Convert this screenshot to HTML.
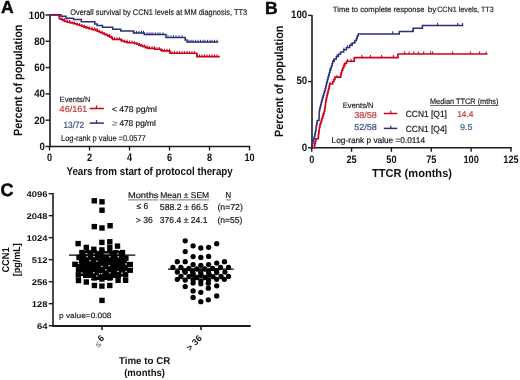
<!DOCTYPE html>
<html><head><meta charset="utf-8"><style>
html,body{margin:0;padding:0;background:#fff;width:520px;height:380px;overflow:hidden;}
svg{display:block;will-change:transform;}
text{font-family:"Liberation Sans", sans-serif;}
</style></head><body>
<svg width="520" height="380" viewBox="0 0 520 380" text-rendering="geometricPrecision">
<rect width="520" height="380" fill="#fff"/>
<text x="1.0" y="13.1" font-size="17.6" font-weight="bold" fill="#0a0a0a" text-anchor="start" stroke="#0a0a0a" stroke-width="0.45">A</text>
<line x1="50" y1="14.2" x2="50" y2="147.3" stroke="#1c1c1c" stroke-width="1.6" stroke-linecap="butt"/>
<line x1="49.2" y1="146.5" x2="250.3" y2="146.5" stroke="#1c1c1c" stroke-width="1.6" stroke-linecap="butt"/>
<line x1="45.5" y1="146.5" x2="50" y2="146.5" stroke="#1c1c1c" stroke-width="1.4" stroke-linecap="butt"/>
<text x="45.0" y="150.0" font-size="10.8" font-weight="bold" fill="#111" text-anchor="end" textLength="5.4" lengthAdjust="spacingAndGlyphs" >0</text>
<line x1="45.5" y1="120.2" x2="50" y2="120.2" stroke="#1c1c1c" stroke-width="1.4" stroke-linecap="butt"/>
<text x="45.0" y="123.7" font-size="10.8" font-weight="bold" fill="#111" text-anchor="end" textLength="10.8" lengthAdjust="spacingAndGlyphs" >20</text>
<line x1="45.5" y1="93.9" x2="50" y2="93.9" stroke="#1c1c1c" stroke-width="1.4" stroke-linecap="butt"/>
<text x="45.0" y="97.4" font-size="10.8" font-weight="bold" fill="#111" text-anchor="end" textLength="10.8" lengthAdjust="spacingAndGlyphs" >40</text>
<line x1="45.5" y1="67.6" x2="50" y2="67.6" stroke="#1c1c1c" stroke-width="1.4" stroke-linecap="butt"/>
<text x="45.0" y="71.1" font-size="10.8" font-weight="bold" fill="#111" text-anchor="end" textLength="10.8" lengthAdjust="spacingAndGlyphs" >60</text>
<line x1="45.5" y1="41.3" x2="50" y2="41.3" stroke="#1c1c1c" stroke-width="1.4" stroke-linecap="butt"/>
<text x="45.0" y="44.8" font-size="10.8" font-weight="bold" fill="#111" text-anchor="end" textLength="10.8" lengthAdjust="spacingAndGlyphs" >80</text>
<line x1="45.5" y1="15.0" x2="50" y2="15.0" stroke="#1c1c1c" stroke-width="1.4" stroke-linecap="butt"/>
<text x="45.0" y="18.5" font-size="10.8" font-weight="bold" fill="#111" text-anchor="end" textLength="16.200000000000003" lengthAdjust="spacingAndGlyphs" >100</text>
<line x1="49.5" y1="146.5" x2="49.5" y2="150.5" stroke="#1c1c1c" stroke-width="1.4" stroke-linecap="butt"/>
<text x="49.5" y="161.0" font-size="10.8" font-weight="bold" fill="#111" text-anchor="middle" textLength="5.1" lengthAdjust="spacingAndGlyphs" >0</text>
<line x1="89.5" y1="146.5" x2="89.5" y2="150.5" stroke="#1c1c1c" stroke-width="1.4" stroke-linecap="butt"/>
<text x="89.5" y="161.0" font-size="10.8" font-weight="bold" fill="#111" text-anchor="middle" textLength="5.1" lengthAdjust="spacingAndGlyphs" >2</text>
<line x1="129.5" y1="146.5" x2="129.5" y2="150.5" stroke="#1c1c1c" stroke-width="1.4" stroke-linecap="butt"/>
<text x="129.5" y="161.0" font-size="10.8" font-weight="bold" fill="#111" text-anchor="middle" textLength="5.1" lengthAdjust="spacingAndGlyphs" >4</text>
<line x1="169.5" y1="146.5" x2="169.5" y2="150.5" stroke="#1c1c1c" stroke-width="1.4" stroke-linecap="butt"/>
<text x="169.5" y="161.0" font-size="10.8" font-weight="bold" fill="#111" text-anchor="middle" textLength="5.1" lengthAdjust="spacingAndGlyphs" >6</text>
<line x1="209.5" y1="146.5" x2="209.5" y2="150.5" stroke="#1c1c1c" stroke-width="1.4" stroke-linecap="butt"/>
<text x="209.5" y="161.0" font-size="10.8" font-weight="bold" fill="#111" text-anchor="middle" textLength="5.1" lengthAdjust="spacingAndGlyphs" >8</text>
<line x1="249.5" y1="146.5" x2="249.5" y2="150.5" stroke="#1c1c1c" stroke-width="1.4" stroke-linecap="butt"/>
<text x="249.5" y="161.0" font-size="10.8" font-weight="bold" fill="#111" text-anchor="middle" textLength="10.2" lengthAdjust="spacingAndGlyphs" >10</text>
<text x="66.4" y="174.6" font-size="11.2" font-weight="bold" fill="#111" text-anchor="start" textLength="166.4" lengthAdjust="spacingAndGlyphs" >Years from start of protocol therapy</text>
<text x="22" y="136.1" font-size="12" font-weight="bold" fill="#111" text-anchor="start" textLength="111.6" lengthAdjust="spacingAndGlyphs" transform="rotate(-90 22 136.1)" >Percent of population</text>
<text x="70.2" y="14.6" font-size="8.2" font-weight="normal" fill="#1e1e1e" text-anchor="start" textLength="177" lengthAdjust="spacingAndGlyphs" stroke="#1e1e1e" stroke-width="0.18" >Overall survival by CCN1 levels at MM diagnosis, TT3</text>
<polyline points="49.5,14.8 61.0,14.8 61.0,16.3 66.0,16.3 66.0,18.2 73.6,18.2 73.6,19.6 81.3,19.6 81.3,21.7 94.8,21.7 94.8,24.0 97.1,24.0 97.1,25.4 102.5,25.4 102.5,27.2 112.8,27.2 112.8,29.3 120.8,29.3 120.8,31.1 133.5,31.1 133.5,33.0 144.3,33.0 144.3,34.6 166.0,34.6 166.0,37.5 185.2,37.5 185.2,39.9 187.0,39.9 187.0,42.0 218.3,42.0 218.3,42.0" fill="none" stroke="#28307a" stroke-width="1.5" stroke-linejoin="miter"/>
<line x1="134" y1="30.8" x2="134" y2="33.5" stroke="#28307a" stroke-width="1.0" stroke-linecap="butt"/>
<line x1="136.5" y1="30.8" x2="136.5" y2="33.5" stroke="#28307a" stroke-width="1.0" stroke-linecap="butt"/>
<line x1="139" y1="30.8" x2="139" y2="33.5" stroke="#28307a" stroke-width="1.0" stroke-linecap="butt"/>
<line x1="141.5" y1="30.8" x2="141.5" y2="33.5" stroke="#28307a" stroke-width="1.0" stroke-linecap="butt"/>
<line x1="143.5" y1="30.8" x2="143.5" y2="33.5" stroke="#28307a" stroke-width="1.0" stroke-linecap="butt"/>
<line x1="147" y1="32.4" x2="147" y2="35.1" stroke="#28307a" stroke-width="1.0" stroke-linecap="butt"/>
<line x1="149" y1="32.4" x2="149" y2="35.1" stroke="#28307a" stroke-width="1.0" stroke-linecap="butt"/>
<line x1="151" y1="32.4" x2="151" y2="35.1" stroke="#28307a" stroke-width="1.0" stroke-linecap="butt"/>
<line x1="153" y1="32.4" x2="153" y2="35.1" stroke="#28307a" stroke-width="1.0" stroke-linecap="butt"/>
<line x1="155.5" y1="32.4" x2="155.5" y2="35.1" stroke="#28307a" stroke-width="1.0" stroke-linecap="butt"/>
<line x1="158" y1="32.4" x2="158" y2="35.1" stroke="#28307a" stroke-width="1.0" stroke-linecap="butt"/>
<line x1="160" y1="32.4" x2="160" y2="35.1" stroke="#28307a" stroke-width="1.0" stroke-linecap="butt"/>
<line x1="163" y1="32.4" x2="163" y2="35.1" stroke="#28307a" stroke-width="1.0" stroke-linecap="butt"/>
<line x1="168" y1="35.3" x2="168" y2="38.0" stroke="#28307a" stroke-width="1.0" stroke-linecap="butt"/>
<line x1="171" y1="35.3" x2="171" y2="38.0" stroke="#28307a" stroke-width="1.0" stroke-linecap="butt"/>
<line x1="173.5" y1="35.3" x2="173.5" y2="38.0" stroke="#28307a" stroke-width="1.0" stroke-linecap="butt"/>
<line x1="176" y1="35.3" x2="176" y2="38.0" stroke="#28307a" stroke-width="1.0" stroke-linecap="butt"/>
<line x1="179" y1="35.3" x2="179" y2="38.0" stroke="#28307a" stroke-width="1.0" stroke-linecap="butt"/>
<line x1="182" y1="35.3" x2="182" y2="38.0" stroke="#28307a" stroke-width="1.0" stroke-linecap="butt"/>
<line x1="189" y1="39.8" x2="189" y2="42.5" stroke="#28307a" stroke-width="1.0" stroke-linecap="butt"/>
<line x1="191" y1="39.8" x2="191" y2="42.5" stroke="#28307a" stroke-width="1.0" stroke-linecap="butt"/>
<line x1="193" y1="39.8" x2="193" y2="42.5" stroke="#28307a" stroke-width="1.0" stroke-linecap="butt"/>
<line x1="195.5" y1="39.8" x2="195.5" y2="42.5" stroke="#28307a" stroke-width="1.0" stroke-linecap="butt"/>
<line x1="198" y1="39.8" x2="198" y2="42.5" stroke="#28307a" stroke-width="1.0" stroke-linecap="butt"/>
<line x1="200.5" y1="39.8" x2="200.5" y2="42.5" stroke="#28307a" stroke-width="1.0" stroke-linecap="butt"/>
<line x1="203" y1="39.8" x2="203" y2="42.5" stroke="#28307a" stroke-width="1.0" stroke-linecap="butt"/>
<line x1="205" y1="39.8" x2="205" y2="42.5" stroke="#28307a" stroke-width="1.0" stroke-linecap="butt"/>
<line x1="207.5" y1="39.8" x2="207.5" y2="42.5" stroke="#28307a" stroke-width="1.0" stroke-linecap="butt"/>
<line x1="210" y1="39.8" x2="210" y2="42.5" stroke="#28307a" stroke-width="1.0" stroke-linecap="butt"/>
<line x1="212" y1="39.8" x2="212" y2="42.5" stroke="#28307a" stroke-width="1.0" stroke-linecap="butt"/>
<line x1="214.5" y1="39.8" x2="214.5" y2="42.5" stroke="#28307a" stroke-width="1.0" stroke-linecap="butt"/>
<line x1="217" y1="39.8" x2="217" y2="42.5" stroke="#28307a" stroke-width="1.0" stroke-linecap="butt"/>
<polyline points="49.5,14.8 59.0,14.8 59.0,15.6 59.1,15.6 59.1,16.4 59.2,16.4 59.2,17.3 59.4,17.3 59.4,18.1 59.6,18.1 59.6,18.9 61.8,18.9 61.8,19.7 63.2,19.7 63.2,20.5 64.6,20.5 64.6,21.4 67.3,21.4 67.3,22.2 70.2,22.2 70.2,23.0 73.4,23.0 73.4,23.8 76.8,23.8 76.8,24.6 79.4,24.6 79.4,25.5 81.9,25.5 81.9,26.3 83.9,26.3 83.9,27.1 86.2,27.1 86.2,27.9 89.0,27.9 89.0,28.7 92.1,28.7 92.1,29.6 95.6,29.6 95.6,30.4 97.3,30.4 97.3,31.2 99.0,31.2 99.0,32.0 100.8,32.0 100.8,32.8 102.8,32.8 102.8,33.7 104.5,33.7 104.5,34.5 106.3,34.5 106.3,35.3 108.1,35.3 108.1,36.1 109.8,36.1 109.8,36.9 111.3,36.9 111.3,37.8 112.3,37.8 112.3,38.6 112.7,38.6 112.7,39.4 121.1,39.4 121.1,40.2 121.5,40.2 121.5,41.0 124.4,41.0 124.4,41.9 127.4,41.9 127.4,42.7 134.5,42.7 134.5,43.5 137.0,43.5 137.0,44.3 138.9,44.3 138.9,45.1 141.0,45.1 141.0,46.0 143.0,46.0 143.0,46.8 145.6,46.8 145.6,47.6 147.9,47.6 147.9,48.4 154.7,48.4 154.7,49.2 160.9,49.2 160.9,50.1 162.0,50.1 162.0,50.9 169.8,50.9 169.8,51.7 169.9,51.7 169.9,52.5 170.0,52.5 170.0,53.3 196.8,53.3 196.8,54.2 196.9,54.2 196.9,55.0 196.9,55.0 196.9,55.8 197.0,55.8 197.0,56.6 219.0,56.6 219.0,57.4" fill="none" stroke="#d0021b" stroke-width="1.6" stroke-linejoin="miter"/>
<line x1="62.0" y1="17.52" x2="62.0" y2="20.22" stroke="#d0021b" stroke-width="1.0" stroke-linecap="butt"/>
<line x1="64.5" y1="18.34" x2="64.5" y2="21.04" stroke="#d0021b" stroke-width="1.0" stroke-linecap="butt"/>
<line x1="67.0" y1="19.16" x2="67.0" y2="21.86" stroke="#d0021b" stroke-width="1.0" stroke-linecap="butt"/>
<line x1="69.5" y1="19.98" x2="69.5" y2="22.68" stroke="#d0021b" stroke-width="1.0" stroke-linecap="butt"/>
<line x1="72.0" y1="20.8" x2="72.0" y2="23.5" stroke="#d0021b" stroke-width="1.0" stroke-linecap="butt"/>
<line x1="74.5" y1="21.62" x2="74.5" y2="24.32" stroke="#d0021b" stroke-width="1.0" stroke-linecap="butt"/>
<line x1="77.0" y1="22.44" x2="77.0" y2="25.14" stroke="#d0021b" stroke-width="1.0" stroke-linecap="butt"/>
<line x1="79.5" y1="23.26" x2="79.5" y2="25.96" stroke="#d0021b" stroke-width="1.0" stroke-linecap="butt"/>
<line x1="82.0" y1="24.080000000000002" x2="82.0" y2="26.78" stroke="#d0021b" stroke-width="1.0" stroke-linecap="butt"/>
<line x1="84.5" y1="24.900000000000002" x2="84.5" y2="27.6" stroke="#d0021b" stroke-width="1.0" stroke-linecap="butt"/>
<line x1="87.0" y1="25.720000000000002" x2="87.0" y2="28.42" stroke="#d0021b" stroke-width="1.0" stroke-linecap="butt"/>
<line x1="89.5" y1="26.540000000000003" x2="89.5" y2="29.240000000000002" stroke="#d0021b" stroke-width="1.0" stroke-linecap="butt"/>
<line x1="92.0" y1="26.540000000000003" x2="92.0" y2="29.240000000000002" stroke="#d0021b" stroke-width="1.0" stroke-linecap="butt"/>
<line x1="94.5" y1="27.360000000000003" x2="94.5" y2="30.060000000000002" stroke="#d0021b" stroke-width="1.0" stroke-linecap="butt"/>
<line x1="97.0" y1="28.18" x2="97.0" y2="30.88" stroke="#d0021b" stroke-width="1.0" stroke-linecap="butt"/>
<line x1="99.5" y1="29.819999999999997" x2="99.5" y2="32.519999999999996" stroke="#d0021b" stroke-width="1.0" stroke-linecap="butt"/>
<line x1="102.0" y1="30.640000000000004" x2="102.0" y2="33.34" stroke="#d0021b" stroke-width="1.0" stroke-linecap="butt"/>
<line x1="104.5" y1="32.28" x2="104.5" y2="34.980000000000004" stroke="#d0021b" stroke-width="1.0" stroke-linecap="butt"/>
<line x1="107.0" y1="33.099999999999994" x2="107.0" y2="35.8" stroke="#d0021b" stroke-width="1.0" stroke-linecap="butt"/>
<line x1="109.5" y1="33.92" x2="109.5" y2="36.620000000000005" stroke="#d0021b" stroke-width="1.0" stroke-linecap="butt"/>
<line x1="112.0" y1="35.559999999999995" x2="112.0" y2="38.26" stroke="#d0021b" stroke-width="1.0" stroke-linecap="butt"/>
<line x1="114.5" y1="37.199999999999996" x2="114.5" y2="39.9" stroke="#d0021b" stroke-width="1.0" stroke-linecap="butt"/>
<line x1="117.0" y1="37.199999999999996" x2="117.0" y2="39.9" stroke="#d0021b" stroke-width="1.0" stroke-linecap="butt"/>
<line x1="119.5" y1="37.199999999999996" x2="119.5" y2="39.9" stroke="#d0021b" stroke-width="1.0" stroke-linecap="butt"/>
<line x1="122.0" y1="38.839999999999996" x2="122.0" y2="41.54" stroke="#d0021b" stroke-width="1.0" stroke-linecap="butt"/>
<line x1="124.5" y1="39.66" x2="124.5" y2="42.36" stroke="#d0021b" stroke-width="1.0" stroke-linecap="butt"/>
<line x1="127.0" y1="39.66" x2="127.0" y2="42.36" stroke="#d0021b" stroke-width="1.0" stroke-linecap="butt"/>
<line x1="129.5" y1="40.48" x2="129.5" y2="43.18" stroke="#d0021b" stroke-width="1.0" stroke-linecap="butt"/>
<line x1="132.0" y1="40.48" x2="132.0" y2="43.18" stroke="#d0021b" stroke-width="1.0" stroke-linecap="butt"/>
<line x1="134.5" y1="41.3" x2="134.5" y2="44.0" stroke="#d0021b" stroke-width="1.0" stroke-linecap="butt"/>
<line x1="137.0" y1="42.12" x2="137.0" y2="44.82" stroke="#d0021b" stroke-width="1.0" stroke-linecap="butt"/>
<line x1="139.5" y1="42.94" x2="139.5" y2="45.64" stroke="#d0021b" stroke-width="1.0" stroke-linecap="butt"/>
<line x1="142.0" y1="43.75999999999999" x2="142.0" y2="46.459999999999994" stroke="#d0021b" stroke-width="1.0" stroke-linecap="butt"/>
<line x1="144.5" y1="44.58" x2="144.5" y2="47.28" stroke="#d0021b" stroke-width="1.0" stroke-linecap="butt"/>
<line x1="147.0" y1="45.39999999999999" x2="147.0" y2="48.099999999999994" stroke="#d0021b" stroke-width="1.0" stroke-linecap="butt"/>
<line x1="149.5" y1="46.22" x2="149.5" y2="48.92" stroke="#d0021b" stroke-width="1.0" stroke-linecap="butt"/>
<line x1="152.0" y1="46.22" x2="152.0" y2="48.92" stroke="#d0021b" stroke-width="1.0" stroke-linecap="butt"/>
<line x1="154.5" y1="46.22" x2="154.5" y2="48.92" stroke="#d0021b" stroke-width="1.0" stroke-linecap="butt"/>
<line x1="157.0" y1="47.03999999999999" x2="157.0" y2="49.739999999999995" stroke="#d0021b" stroke-width="1.0" stroke-linecap="butt"/>
<line x1="159.5" y1="47.03999999999999" x2="159.5" y2="49.739999999999995" stroke="#d0021b" stroke-width="1.0" stroke-linecap="butt"/>
<line x1="162.0" y1="48.67999999999999" x2="162.0" y2="51.379999999999995" stroke="#d0021b" stroke-width="1.0" stroke-linecap="butt"/>
<line x1="164.5" y1="48.67999999999999" x2="164.5" y2="51.379999999999995" stroke="#d0021b" stroke-width="1.0" stroke-linecap="butt"/>
<line x1="167.0" y1="48.67999999999999" x2="167.0" y2="51.379999999999995" stroke="#d0021b" stroke-width="1.0" stroke-linecap="butt"/>
<line x1="169.5" y1="48.67999999999999" x2="169.5" y2="51.379999999999995" stroke="#d0021b" stroke-width="1.0" stroke-linecap="butt"/>
<line x1="172.0" y1="51.14" x2="172.0" y2="53.84" stroke="#d0021b" stroke-width="1.0" stroke-linecap="butt"/>
<line x1="174.5" y1="51.14" x2="174.5" y2="53.84" stroke="#d0021b" stroke-width="1.0" stroke-linecap="butt"/>
<line x1="177.0" y1="51.14" x2="177.0" y2="53.84" stroke="#d0021b" stroke-width="1.0" stroke-linecap="butt"/>
<line x1="179.5" y1="51.14" x2="179.5" y2="53.84" stroke="#d0021b" stroke-width="1.0" stroke-linecap="butt"/>
<line x1="182.0" y1="51.14" x2="182.0" y2="53.84" stroke="#d0021b" stroke-width="1.0" stroke-linecap="butt"/>
<line x1="184.5" y1="51.14" x2="184.5" y2="53.84" stroke="#d0021b" stroke-width="1.0" stroke-linecap="butt"/>
<line x1="187.0" y1="51.14" x2="187.0" y2="53.84" stroke="#d0021b" stroke-width="1.0" stroke-linecap="butt"/>
<line x1="189.5" y1="51.14" x2="189.5" y2="53.84" stroke="#d0021b" stroke-width="1.0" stroke-linecap="butt"/>
<line x1="192.0" y1="51.14" x2="192.0" y2="53.84" stroke="#d0021b" stroke-width="1.0" stroke-linecap="butt"/>
<line x1="194.5" y1="51.14" x2="194.5" y2="53.84" stroke="#d0021b" stroke-width="1.0" stroke-linecap="butt"/>
<line x1="197.0" y1="54.42" x2="197.0" y2="57.120000000000005" stroke="#d0021b" stroke-width="1.0" stroke-linecap="butt"/>
<line x1="199.5" y1="54.42" x2="199.5" y2="57.120000000000005" stroke="#d0021b" stroke-width="1.0" stroke-linecap="butt"/>
<line x1="202.0" y1="54.42" x2="202.0" y2="57.120000000000005" stroke="#d0021b" stroke-width="1.0" stroke-linecap="butt"/>
<line x1="204.5" y1="54.42" x2="204.5" y2="57.120000000000005" stroke="#d0021b" stroke-width="1.0" stroke-linecap="butt"/>
<line x1="207.0" y1="54.42" x2="207.0" y2="57.120000000000005" stroke="#d0021b" stroke-width="1.0" stroke-linecap="butt"/>
<line x1="209.5" y1="54.42" x2="209.5" y2="57.120000000000005" stroke="#d0021b" stroke-width="1.0" stroke-linecap="butt"/>
<line x1="212.0" y1="54.42" x2="212.0" y2="57.120000000000005" stroke="#d0021b" stroke-width="1.0" stroke-linecap="butt"/>
<line x1="214.5" y1="54.42" x2="214.5" y2="57.120000000000005" stroke="#d0021b" stroke-width="1.0" stroke-linecap="butt"/>
<line x1="217.0" y1="54.42" x2="217.0" y2="57.120000000000005" stroke="#d0021b" stroke-width="1.0" stroke-linecap="butt"/>
<line x1="49.5" y1="14.8" x2="58.9" y2="14.8" stroke="#6b1d4d" stroke-width="1.7" stroke-linecap="butt"/>
<text x="59.6" y="101.5" font-size="7.7" font-weight="normal" fill="#1e1e1e" text-anchor="start" textLength="30.8" lengthAdjust="spacingAndGlyphs" stroke="#1e1e1e" stroke-width="0.18" >Events/N</text>
<text x="59.6" y="111.5" font-size="8.9" font-weight="normal" fill="#c8383c" text-anchor="start" textLength="27.7" lengthAdjust="spacingAndGlyphs" stroke="#c8383c" stroke-width="0.18" >46/161</text>
<line x1="89.6" y1="108.5" x2="103.9" y2="108.5" stroke="#d0021b" stroke-width="1.5" stroke-linecap="butt"/>
<line x1="96.5" y1="105.4" x2="96.5" y2="108.5" stroke="#d0021b" stroke-width="1.2" stroke-linecap="butt"/>
<text x="111.9" y="111.8" font-size="8.3" font-weight="normal" fill="#151515" text-anchor="start" textLength="45" lengthAdjust="spacingAndGlyphs" stroke="#151515" stroke-width="0.18" >&lt; 478 pg/ml</text>
<text x="63.5" y="127.7" font-size="9.0" font-weight="normal" fill="#3e4a90" text-anchor="start" textLength="20.7" lengthAdjust="spacingAndGlyphs" stroke="#3e4a90" stroke-width="0.18" >13/72</text>
<line x1="89.6" y1="123.1" x2="103.9" y2="123.1" stroke="#28307a" stroke-width="1.5" stroke-linecap="butt"/>
<line x1="96.5" y1="120.1" x2="96.5" y2="123.1" stroke="#28307a" stroke-width="1.2" stroke-linecap="butt"/>
<text x="112.2" y="126.3" font-size="8.3" font-weight="normal" fill="#888" text-anchor="start" textLength="5.0" lengthAdjust="spacingAndGlyphs" stroke="#888" stroke-width="0.18" >≥</text>
<text x="119.4" y="126.3" font-size="8.3" font-weight="normal" fill="#151515" text-anchor="start" textLength="36.4" lengthAdjust="spacingAndGlyphs" stroke="#151515" stroke-width="0.18" >478 pg/ml</text>
<text x="61.1" y="140.9" font-size="8.4" font-weight="normal" fill="#1e1e1e" text-anchor="start" textLength="84.6" lengthAdjust="spacingAndGlyphs" stroke="#1e1e1e" stroke-width="0.18" >Log-rank p value =0.0577</text>
<text x="265.0" y="13.6" font-size="17.6" font-weight="bold" fill="#0a0a0a" text-anchor="start" stroke="#0a0a0a" stroke-width="0.45">B</text>
<line x1="312" y1="15" x2="312" y2="148.6" stroke="#1c1c1c" stroke-width="1.6" stroke-linecap="butt"/>
<line x1="311.2" y1="147.8" x2="511.8" y2="147.8" stroke="#1c1c1c" stroke-width="1.6" stroke-linecap="butt"/>
<line x1="308" y1="147.8" x2="312" y2="147.8" stroke="#1c1c1c" stroke-width="1.4" stroke-linecap="butt"/>
<text x="307.2" y="151.0" font-size="10.8" font-weight="bold" fill="#111" text-anchor="end" textLength="5.4" lengthAdjust="spacingAndGlyphs" >0</text>
<line x1="308" y1="81.60000000000001" x2="312" y2="81.60000000000001" stroke="#1c1c1c" stroke-width="1.4" stroke-linecap="butt"/>
<text x="307.2" y="84.00000000000001" font-size="10.8" font-weight="bold" fill="#111" text-anchor="end" textLength="10.8" lengthAdjust="spacingAndGlyphs" >50</text>
<line x1="308" y1="15.400000000000006" x2="312" y2="15.400000000000006" stroke="#1c1c1c" stroke-width="1.4" stroke-linecap="butt"/>
<text x="307.2" y="17.800000000000004" font-size="10.8" font-weight="bold" fill="#111" text-anchor="end" textLength="16.200000000000003" lengthAdjust="spacingAndGlyphs" >100</text>
<line x1="311.7" y1="147.8" x2="311.7" y2="151.8" stroke="#1c1c1c" stroke-width="1.4" stroke-linecap="butt"/>
<text x="311.7" y="162.6" font-size="10.8" font-weight="bold" fill="#111" text-anchor="middle" textLength="5.1" lengthAdjust="spacingAndGlyphs" >0</text>
<line x1="351.55" y1="147.8" x2="351.55" y2="151.8" stroke="#1c1c1c" stroke-width="1.4" stroke-linecap="butt"/>
<text x="351.55" y="162.6" font-size="10.8" font-weight="bold" fill="#111" text-anchor="middle" textLength="10.2" lengthAdjust="spacingAndGlyphs" >25</text>
<line x1="391.4" y1="147.8" x2="391.4" y2="151.8" stroke="#1c1c1c" stroke-width="1.4" stroke-linecap="butt"/>
<text x="391.4" y="162.6" font-size="10.8" font-weight="bold" fill="#111" text-anchor="middle" textLength="10.2" lengthAdjust="spacingAndGlyphs" >50</text>
<line x1="431.25" y1="147.8" x2="431.25" y2="151.8" stroke="#1c1c1c" stroke-width="1.4" stroke-linecap="butt"/>
<text x="431.25" y="162.6" font-size="10.8" font-weight="bold" fill="#111" text-anchor="middle" textLength="10.2" lengthAdjust="spacingAndGlyphs" >75</text>
<line x1="471.1" y1="147.8" x2="471.1" y2="151.8" stroke="#1c1c1c" stroke-width="1.4" stroke-linecap="butt"/>
<text x="471.1" y="162.6" font-size="10.8" font-weight="bold" fill="#111" text-anchor="middle" textLength="15.299999999999999" lengthAdjust="spacingAndGlyphs" >100</text>
<line x1="510.95" y1="147.8" x2="510.95" y2="151.8" stroke="#1c1c1c" stroke-width="1.4" stroke-linecap="butt"/>
<text x="510.95" y="162.6" font-size="10.8" font-weight="bold" fill="#111" text-anchor="middle" textLength="15.299999999999999" lengthAdjust="spacingAndGlyphs" >125</text>
<text x="372.0" y="176.6" font-size="11.5" font-weight="bold" fill="#111" text-anchor="start" textLength="80" lengthAdjust="spacingAndGlyphs" >TTCR (months)</text>
<text x="282.6" y="137.1" font-size="12" font-weight="bold" fill="#111" text-anchor="start" textLength="111.6" lengthAdjust="spacingAndGlyphs" transform="rotate(-90 282.6 137.1)" >Percent of population</text>
<text x="332.8" y="12.0" font-size="7.7" font-weight="normal" fill="#1e1e1e" text-anchor="start" textLength="58.6" lengthAdjust="spacingAndGlyphs" stroke="#1e1e1e" stroke-width="0.18" >Time to complete</text>
<text x="393.5" y="12.0" font-size="7.7" font-weight="normal" fill="#1e1e1e" text-anchor="start" textLength="30.9" lengthAdjust="spacingAndGlyphs" stroke="#1e1e1e" stroke-width="0.18" >response</text>
<text x="427.8" y="12.0" font-size="7.7" font-weight="normal" fill="#1e1e1e" text-anchor="start" textLength="8.7" lengthAdjust="spacingAndGlyphs" stroke="#1e1e1e" stroke-width="0.18" >by</text>
<text x="437.2" y="12.0" font-size="7.7" font-weight="normal" fill="#1e1e1e" text-anchor="start" textLength="56.5" lengthAdjust="spacingAndGlyphs" stroke="#1e1e1e" stroke-width="0.18" >CCN1 levels, TT3</text>
<polyline points="312.0,147.8 312.3,147.8 312.3,145.5 312.5,145.5 312.5,143.2 312.9,143.2 312.9,141.0 313.6,141.0 313.6,138.7 314.3,138.7 314.3,136.4 314.8,136.4 314.8,134.1 315.3,134.1 315.3,131.8 315.8,131.8 315.8,129.6 316.1,129.6 316.1,127.3 316.4,127.3 316.4,125.0 316.8,125.0 316.8,122.7 317.2,122.7 317.2,120.4 319.0,120.4 319.0,118.2 319.1,118.2 319.1,115.9 319.2,115.9 319.2,113.6 319.3,113.6 319.3,111.3 319.6,111.3 319.6,109.0 320.1,109.0 320.1,106.8 320.7,106.8 320.7,104.5 321.2,104.5 321.2,102.2 321.8,102.2 321.8,99.9 322.5,99.9 322.5,97.6 323.2,97.6 323.2,95.4 323.8,95.4 323.8,93.1 324.5,93.1 324.5,90.8 325.2,90.8 325.2,88.5 325.8,88.5 325.8,86.2 326.3,86.2 326.3,84.0 326.8,84.0 326.8,81.7 327.4,81.7 327.4,79.4 328.0,79.4 328.0,77.1 328.7,77.1 328.7,74.8 329.3,74.8 329.3,72.6 329.9,72.6 329.9,70.3 330.7,70.3 330.7,68.0 331.4,68.0 331.4,65.7 332.1,65.7 332.1,63.4 332.7,63.4 332.7,61.2 334.3,61.2 334.3,58.9 336.3,58.9 336.3,56.6 338.4,56.6 338.4,54.3 340.5,54.3 340.5,52.0 343.7,52.0 343.7,49.8 346.5,49.8 346.5,47.5 349.7,47.5 349.7,45.2 352.2,45.2 352.2,42.9 354.9,42.9 354.9,40.6 356.4,40.6 356.4,38.4 357.2,38.4 357.2,36.1 358.2,36.1 358.2,33.9 399.3,33.9 399.3,31.4 413.2,31.4 413.2,28.2 422.4,28.2 422.4,25.6 463.2,25.6" fill="none" stroke="#28307a" stroke-width="1.5" stroke-linejoin="miter"/>
<polyline points="313.0,147.8 314.5,147.8 314.5,145.5 314.8,145.5 314.8,143.2 315.3,143.2 315.3,141.0 315.9,141.0 315.9,138.7 318.3,138.7 318.3,136.4 318.5,136.4 318.5,134.1 318.8,134.1 318.8,131.8 319.1,131.8 319.1,129.6 319.4,129.6 319.4,127.3 319.9,127.3 319.9,125.0 320.5,125.0 320.5,122.7 321.3,122.7 321.3,120.4 321.9,120.4 321.9,118.2 322.6,118.2 322.6,115.9 323.3,115.9 323.3,113.6 324.1,113.6 324.1,111.3 324.7,111.3 324.7,109.0 325.0,109.0 325.0,106.8 325.3,106.8 325.3,104.5 325.6,104.5 325.6,102.2 326.0,102.2 326.0,99.9 326.4,99.9 326.4,97.6 326.9,97.6 326.9,95.4 327.4,95.4 327.4,93.1 328.0,93.1 328.0,90.8 328.6,90.8 328.6,88.5 329.1,88.5 329.1,86.2 329.6,86.2 329.6,84.0 332.7,84.0 332.7,81.7 333.9,81.7 333.9,79.4 335.0,79.4 335.0,77.1 340.7,77.1 340.7,74.8 341.2,74.8 341.2,72.6 341.8,72.6 341.8,70.3 342.7,70.3 342.7,68.0 343.7,68.0 343.7,65.7 344.8,65.7 344.8,63.4 346.6,63.4 346.6,61.2 354.2,61.2 354.2,58.9 354.5,58.9 354.5,57.6 398.0,57.6 398.0,54.0 487.5,54.0" fill="none" stroke="#d0021b" stroke-width="1.6" stroke-linejoin="miter"/>
<line x1="323.0" y1="95.44000000000001" x2="323.0" y2="98.14000000000001" stroke="#28307a" stroke-width="1.0" stroke-linecap="butt"/>
<line x1="326.5" y1="81.76" x2="326.5" y2="84.46000000000001" stroke="#28307a" stroke-width="1.0" stroke-linecap="butt"/>
<line x1="330.0" y1="68.08000000000001" x2="330.0" y2="70.78000000000002" stroke="#28307a" stroke-width="1.0" stroke-linecap="butt"/>
<line x1="333.5" y1="58.96000000000002" x2="333.5" y2="61.660000000000025" stroke="#28307a" stroke-width="1.0" stroke-linecap="butt"/>
<line x1="337.0" y1="54.40000000000002" x2="337.0" y2="57.10000000000002" stroke="#28307a" stroke-width="1.0" stroke-linecap="butt"/>
<line x1="340.5" y1="52.12000000000002" x2="340.5" y2="54.82000000000002" stroke="#28307a" stroke-width="1.0" stroke-linecap="butt"/>
<line x1="344.0" y1="47.56000000000002" x2="344.0" y2="50.26000000000002" stroke="#28307a" stroke-width="1.0" stroke-linecap="butt"/>
<line x1="347.5" y1="45.280000000000015" x2="347.5" y2="47.98000000000002" stroke="#28307a" stroke-width="1.0" stroke-linecap="butt"/>
<line x1="351.0" y1="43.000000000000014" x2="351.0" y2="45.70000000000002" stroke="#28307a" stroke-width="1.0" stroke-linecap="butt"/>
<line x1="354.5" y1="40.72000000000001" x2="354.5" y2="43.420000000000016" stroke="#28307a" stroke-width="1.0" stroke-linecap="butt"/>
<line x1="330.0" y1="81.76" x2="330.0" y2="84.46000000000001" stroke="#d0021b" stroke-width="1.0" stroke-linecap="butt"/>
<line x1="333.5" y1="79.48000000000002" x2="333.5" y2="82.18000000000002" stroke="#d0021b" stroke-width="1.0" stroke-linecap="butt"/>
<line x1="337.0" y1="74.92000000000002" x2="337.0" y2="77.62000000000002" stroke="#d0021b" stroke-width="1.0" stroke-linecap="butt"/>
<line x1="340.5" y1="74.92000000000002" x2="340.5" y2="77.62000000000002" stroke="#d0021b" stroke-width="1.0" stroke-linecap="butt"/>
<line x1="344.0" y1="63.52000000000001" x2="344.0" y2="66.22000000000001" stroke="#d0021b" stroke-width="1.0" stroke-linecap="butt"/>
<line x1="347.5" y1="58.96000000000002" x2="347.5" y2="61.660000000000025" stroke="#d0021b" stroke-width="1.0" stroke-linecap="butt"/>
<line x1="351.0" y1="58.96000000000002" x2="351.0" y2="61.660000000000025" stroke="#d0021b" stroke-width="1.0" stroke-linecap="butt"/>
<line x1="361.8" y1="55.0" x2="361.8" y2="57.6" stroke="#d0021b" stroke-width="1.1" stroke-linecap="butt"/>
<line x1="370.4" y1="55.0" x2="370.4" y2="57.6" stroke="#d0021b" stroke-width="1.1" stroke-linecap="butt"/>
<line x1="381.6" y1="55.0" x2="381.6" y2="57.6" stroke="#d0021b" stroke-width="1.1" stroke-linecap="butt"/>
<line x1="393.4" y1="55.0" x2="393.4" y2="57.6" stroke="#d0021b" stroke-width="1.1" stroke-linecap="butt"/>
<line x1="404.6" y1="51.4" x2="404.6" y2="54.0" stroke="#d0021b" stroke-width="1.1" stroke-linecap="butt"/>
<line x1="409.2" y1="51.4" x2="409.2" y2="54.0" stroke="#d0021b" stroke-width="1.1" stroke-linecap="butt"/>
<line x1="413.8" y1="51.4" x2="413.8" y2="54.0" stroke="#d0021b" stroke-width="1.1" stroke-linecap="butt"/>
<line x1="418.4" y1="51.4" x2="418.4" y2="54.0" stroke="#d0021b" stroke-width="1.1" stroke-linecap="butt"/>
<line x1="423.7" y1="51.4" x2="423.7" y2="54.0" stroke="#d0021b" stroke-width="1.1" stroke-linecap="butt"/>
<line x1="430.5" y1="51.4" x2="430.5" y2="54.0" stroke="#d0021b" stroke-width="1.1" stroke-linecap="butt"/>
<line x1="432.6" y1="51.4" x2="432.6" y2="54.0" stroke="#d0021b" stroke-width="1.1" stroke-linecap="butt"/>
<line x1="452.6" y1="51.4" x2="452.6" y2="54.0" stroke="#d0021b" stroke-width="1.1" stroke-linecap="butt"/>
<line x1="470.4" y1="51.4" x2="470.4" y2="54.0" stroke="#d0021b" stroke-width="1.1" stroke-linecap="butt"/>
<line x1="479.6" y1="51.4" x2="479.6" y2="54.0" stroke="#d0021b" stroke-width="1.1" stroke-linecap="butt"/>
<line x1="486.2" y1="51.4" x2="486.2" y2="54.0" stroke="#d0021b" stroke-width="1.1" stroke-linecap="butt"/>
<line x1="392.8" y1="31.299999999999997" x2="392.8" y2="33.9" stroke="#28307a" stroke-width="1.1" stroke-linecap="butt"/>
<line x1="413" y1="28.799999999999997" x2="413" y2="31.4" stroke="#28307a" stroke-width="1.1" stroke-linecap="butt"/>
<line x1="437.5" y1="23.0" x2="437.5" y2="25.6" stroke="#28307a" stroke-width="1.1" stroke-linecap="butt"/>
<line x1="457.9" y1="23.0" x2="457.9" y2="25.6" stroke="#28307a" stroke-width="1.1" stroke-linecap="butt"/>
<line x1="462.6" y1="23.0" x2="462.6" y2="25.6" stroke="#28307a" stroke-width="1.1" stroke-linecap="butt"/>
<text x="342.8" y="108.1" font-size="7.8" font-weight="normal" fill="#1e1e1e" text-anchor="start" textLength="30.7" lengthAdjust="spacingAndGlyphs" stroke="#1e1e1e" stroke-width="0.18" >Events/N</text>
<text x="354.2" y="117.6" font-size="8.7" font-weight="normal" fill="#c8383c" text-anchor="start" textLength="22.7" lengthAdjust="spacingAndGlyphs" stroke="#c8383c" stroke-width="0.18" >38/58</text>
<line x1="383.8" y1="113.5" x2="397.2" y2="113.5" stroke="#d0021b" stroke-width="1.5" stroke-linecap="butt"/>
<line x1="390.8" y1="110.8" x2="390.8" y2="113.5" stroke="#d0021b" stroke-width="1.2" stroke-linecap="butt"/>
<text x="405.8" y="116.5" font-size="8.9" font-weight="normal" fill="#151515" text-anchor="start" textLength="41.1" lengthAdjust="spacingAndGlyphs" stroke="#151515" stroke-width="0.18" >CCN1 [Q1]</text>
<text x="457.2" y="116.5" font-size="8.5" font-weight="normal" fill="#c8383c" text-anchor="start" textLength="16.3" lengthAdjust="spacingAndGlyphs" stroke="#c8383c" stroke-width="0.18" >14.4</text>
<text x="354.2" y="130.4" font-size="8.7" font-weight="normal" fill="#3e4a90" text-anchor="start" textLength="22.7" lengthAdjust="spacingAndGlyphs" stroke="#3e4a90" stroke-width="0.18" >52/58</text>
<line x1="383.8" y1="128.4" x2="397.2" y2="128.4" stroke="#28307a" stroke-width="1.5" stroke-linecap="butt"/>
<line x1="390.8" y1="125.8" x2="390.8" y2="128.4" stroke="#28307a" stroke-width="1.2" stroke-linecap="butt"/>
<text x="405.8" y="131.9" font-size="8.9" font-weight="normal" fill="#151515" text-anchor="start" textLength="41.1" lengthAdjust="spacingAndGlyphs" stroke="#151515" stroke-width="0.18" >CCN1 [Q4]</text>
<text x="460" y="130.1" font-size="8.6" font-weight="normal" fill="#3e4a90" text-anchor="start" textLength="12.6" lengthAdjust="spacingAndGlyphs" stroke="#3e4a90" stroke-width="0.18" >9.5</text>
<text x="430" y="104.0" font-size="7.9" font-weight="normal" fill="#1e1e1e" text-anchor="start" textLength="68.5" lengthAdjust="spacingAndGlyphs" stroke="#1e1e1e" stroke-width="0.18" >Median TTCR (mths)</text>
<line x1="430" y1="105.5" x2="498.5" y2="105.5" stroke="#444" stroke-width="0.8" stroke-linecap="butt"/>
<text x="331.6" y="142.6" font-size="8.3" font-weight="normal" fill="#151515" text-anchor="start" textLength="93.4" lengthAdjust="spacingAndGlyphs" stroke="#151515" stroke-width="0.18" >Log-rank p value =0.0114</text>
<text x="0.6" y="196.2" font-size="18.0" font-weight="bold" fill="#0a0a0a" text-anchor="start" stroke="#0a0a0a" stroke-width="0.45">C</text>
<line x1="53" y1="193" x2="53" y2="326.8" stroke="#1c1c1c" stroke-width="1.6" stroke-linecap="butt"/>
<line x1="52.2" y1="326" x2="250.7" y2="326" stroke="#1c1c1c" stroke-width="1.8" stroke-linecap="butt"/>
<line x1="48.7" y1="325.7" x2="53" y2="325.7" stroke="#1c1c1c" stroke-width="1.4" stroke-linecap="butt"/>
<text x="47.4" y="328.59999999999997" font-size="8.3" font-weight="bold" fill="#111" text-anchor="end" textLength="10.5" lengthAdjust="spacingAndGlyphs" >64</text>
<line x1="48.7" y1="303.7" x2="53" y2="303.7" stroke="#1c1c1c" stroke-width="1.4" stroke-linecap="butt"/>
<text x="47.4" y="306.59999999999997" font-size="8.3" font-weight="bold" fill="#111" text-anchor="end" textLength="15.75" lengthAdjust="spacingAndGlyphs" >128</text>
<line x1="48.7" y1="281.7" x2="53" y2="281.7" stroke="#1c1c1c" stroke-width="1.4" stroke-linecap="butt"/>
<text x="47.4" y="284.59999999999997" font-size="8.3" font-weight="bold" fill="#111" text-anchor="end" textLength="15.75" lengthAdjust="spacingAndGlyphs" >256</text>
<line x1="48.7" y1="259.7" x2="53" y2="259.7" stroke="#1c1c1c" stroke-width="1.4" stroke-linecap="butt"/>
<text x="47.4" y="262.59999999999997" font-size="8.3" font-weight="bold" fill="#111" text-anchor="end" textLength="15.75" lengthAdjust="spacingAndGlyphs" >512</text>
<line x1="48.7" y1="237.7" x2="53" y2="237.7" stroke="#1c1c1c" stroke-width="1.4" stroke-linecap="butt"/>
<text x="47.4" y="240.6" font-size="8.3" font-weight="bold" fill="#111" text-anchor="end" textLength="21.0" lengthAdjust="spacingAndGlyphs" >1024</text>
<line x1="48.7" y1="215.7" x2="53" y2="215.7" stroke="#1c1c1c" stroke-width="1.4" stroke-linecap="butt"/>
<text x="47.4" y="218.6" font-size="8.3" font-weight="bold" fill="#111" text-anchor="end" textLength="21.0" lengthAdjust="spacingAndGlyphs" >2048</text>
<line x1="48.7" y1="193.7" x2="53" y2="193.7" stroke="#1c1c1c" stroke-width="1.4" stroke-linecap="butt"/>
<text x="47.4" y="196.6" font-size="8.3" font-weight="bold" fill="#111" text-anchor="end" textLength="21.0" lengthAdjust="spacingAndGlyphs" >4096</text>
<line x1="102" y1="326" x2="102" y2="330" stroke="#1c1c1c" stroke-width="1.6" stroke-linecap="butt"/>
<line x1="201" y1="326" x2="201" y2="330" stroke="#1c1c1c" stroke-width="1.6" stroke-linecap="butt"/>
<text x="104.8" y="338.8" font-size="9" font-weight="bold" fill="#222" text-anchor="end" transform="rotate(-45 104.8 338.8)" >6</text>
<text x="101.5" y="344.8" font-size="8.5" font-weight="normal" fill="#777" text-anchor="end" transform="rotate(-45 101.5 344.8)" stroke="#777" stroke-width="0.18" >≤</text>
<text x="202.6" y="338.8" font-size="9" font-weight="bold" fill="#222" text-anchor="end" transform="rotate(-45 202.6 338.8)" >&gt; 36</text>
<text x="144.6" y="363.9" font-size="10" font-weight="bold" fill="#111" text-anchor="middle" textLength="51.4" lengthAdjust="spacingAndGlyphs" >Time to CR</text>
<text x="144.6" y="375.8" font-size="10" font-weight="bold" fill="#111" text-anchor="middle" textLength="40.8" lengthAdjust="spacingAndGlyphs" >(months)</text>
<text x="8.9" y="260" font-size="9.9" font-weight="bold" fill="#111" text-anchor="middle" textLength="25.2" lengthAdjust="spacingAndGlyphs" transform="rotate(-90 8.9 260)" >CCN1</text>
<text x="20.3" y="259.7" font-size="9.9" font-weight="bold" fill="#111" text-anchor="middle" textLength="33" lengthAdjust="spacingAndGlyphs" transform="rotate(-90 20.3 259.7)" >[pg/mL]</text>
<text x="59" y="318.3" font-size="7.6" font-weight="normal" fill="#1e1e1e" text-anchor="start" textLength="52.5" lengthAdjust="spacingAndGlyphs" stroke="#1e1e1e" stroke-width="0.18" >p value=0.008</text>
<text x="127.9" y="198.4" font-size="8.4" font-weight="normal" fill="#151515" text-anchor="start" textLength="30.6" lengthAdjust="spacingAndGlyphs" stroke="#151515" stroke-width="0.18" >Months</text>
<text x="160.2" y="198.4" font-size="8.4" font-weight="normal" fill="#151515" text-anchor="start" textLength="49" lengthAdjust="spacingAndGlyphs" stroke="#151515" stroke-width="0.18" >Mean ± SEM</text>
<text x="225.6" y="198.4" font-size="8.6" font-weight="normal" fill="#151515" text-anchor="start" textLength="5.6" lengthAdjust="spacingAndGlyphs" stroke="#151515" stroke-width="0.18" >N</text>
<line x1="127.9" y1="199.9" x2="158.5" y2="199.9" stroke="#555" stroke-width="0.8" stroke-linecap="butt"/>
<line x1="160.2" y1="199.9" x2="209.2" y2="199.9" stroke="#555" stroke-width="0.8" stroke-linecap="butt"/>
<line x1="225.8" y1="199.9" x2="230.8" y2="199.9" stroke="#555" stroke-width="0.8" stroke-linecap="butt"/>
<text x="136.5" y="209.4" font-size="8.7" font-weight="normal" fill="#151515" text-anchor="start" textLength="11.6" lengthAdjust="spacingAndGlyphs" stroke="#151515" stroke-width="0.18" >≤ 6</text>
<text x="159.8" y="209.5" font-size="8.7" font-weight="normal" fill="#151515" text-anchor="start" textLength="48.3" lengthAdjust="spacingAndGlyphs" stroke="#151515" stroke-width="0.18" >588.2 ± 66.5</text>
<text x="217.4" y="209.5" font-size="8.7" font-weight="normal" fill="#151515" text-anchor="start" textLength="25.5" lengthAdjust="spacingAndGlyphs" stroke="#151515" stroke-width="0.18" >(n=72)</text>
<text x="135.8" y="223.1" font-size="8.7" font-weight="normal" fill="#151515" text-anchor="start" textLength="16.9" lengthAdjust="spacingAndGlyphs" stroke="#151515" stroke-width="0.18" >&gt; 36</text>
<text x="159.8" y="223.1" font-size="8.7" font-weight="normal" fill="#151515" text-anchor="start" textLength="47.7" lengthAdjust="spacingAndGlyphs" stroke="#151515" stroke-width="0.18" >376.4 ± 24.1</text>
<text x="217.4" y="222.8" font-size="8.7" font-weight="normal" fill="#151515" text-anchor="start" textLength="25" lengthAdjust="spacingAndGlyphs" stroke="#151515" stroke-width="0.18" >(n=55)</text>
<rect x="91.6" y="198.1" width="5.4" height="5.4" fill="#000"/>
<rect x="99.3" y="199.1" width="5.4" height="5.4" fill="#000"/>
<rect x="99.3" y="207.5" width="5.4" height="5.4" fill="#000"/>
<rect x="91.6" y="223.9" width="5.4" height="5.4" fill="#000"/>
<rect x="99.3" y="225.3" width="5.4" height="5.4" fill="#000"/>
<rect x="107.4" y="223.0" width="5.4" height="5.4" fill="#000"/>
<rect x="75.4" y="240.9" width="5.4" height="5.4" fill="#000"/>
<rect x="83.6" y="244.7" width="5.4" height="5.4" fill="#000"/>
<rect x="91.1" y="246.6" width="5.4" height="5.4" fill="#000"/>
<rect x="99.2" y="239.7" width="5.4" height="5.4" fill="#000"/>
<rect x="107.1" y="239.1" width="5.4" height="5.4" fill="#000"/>
<rect x="114.8" y="243.4" width="5.4" height="5.4" fill="#000"/>
<rect x="99.2" y="247.2" width="5.4" height="5.4" fill="#000"/>
<rect x="107.1" y="244.7" width="5.4" height="5.4" fill="#000"/>
<rect x="75.8" y="277.8" width="5.4" height="5.4" fill="#000"/>
<rect x="83.6" y="279.3" width="5.4" height="5.4" fill="#000"/>
<rect x="91.7" y="282.8" width="5.4" height="5.4" fill="#000"/>
<rect x="99.2" y="283.4" width="5.4" height="5.4" fill="#000"/>
<rect x="107.1" y="282.8" width="5.4" height="5.4" fill="#000"/>
<rect x="115.4" y="277.6" width="5.4" height="5.4" fill="#000"/>
<rect x="122.9" y="277.6" width="5.4" height="5.4" fill="#000"/>
<rect x="99.3" y="297.7" width="5.4" height="5.4" fill="#000"/>
<rect x="79.2" y="249.9" width="5.4" height="5.4" fill="#000"/>
<rect x="85.3" y="249.9" width="5.4" height="5.4" fill="#000"/>
<rect x="91.7" y="249.9" width="5.4" height="5.4" fill="#000"/>
<rect x="99.2" y="249.9" width="5.4" height="5.4" fill="#000"/>
<rect x="107.1" y="249.9" width="5.4" height="5.4" fill="#000"/>
<rect x="113.3" y="249.9" width="5.4" height="5.4" fill="#000"/>
<rect x="119.8" y="249.9" width="5.4" height="5.4" fill="#000"/>
<rect x="76.3" y="254.8" width="5.4" height="5.4" fill="#000"/>
<rect x="72.2" y="261.6" width="5.4" height="5.4" fill="#000"/>
<rect x="75.8" y="267.3" width="5.4" height="5.4" fill="#000"/>
<rect x="75.6" y="272.3" width="5.4" height="5.4" fill="#000"/>
<rect x="83.6" y="272.3" width="5.4" height="5.4" fill="#000"/>
<rect x="91.7" y="275.3" width="5.4" height="5.4" fill="#000"/>
<rect x="99.2" y="276.3" width="5.4" height="5.4" fill="#000"/>
<rect x="107.1" y="275.3" width="5.4" height="5.4" fill="#000"/>
<rect x="115.4" y="272.2" width="5.4" height="5.4" fill="#000"/>
<rect x="122.9" y="272.2" width="5.4" height="5.4" fill="#000"/>
<rect x="123.2" y="255.5" width="5.4" height="5.4" fill="#000"/>
<rect x="127.6" y="261.8" width="5.4" height="5.4" fill="#000"/>
<rect x="127.6" y="267.5" width="5.4" height="5.4" fill="#000"/>
<path d="M80,251 L125,251 L125,256 L127,256 L127,262 L131,262 L131,272 L127,272 L127,276.5 L121,276.5 L121,278 L113,278 L113,280 L91,280 L91,278 L83,278 L83,276 L79,276 L79,272 L76,272 L76,267 L77,267 L77,262 L79,262 L79,256 L80,256 Z" fill="#000"/>
<rect x="85.4" y="253.4" width="2.2" height="1.0" fill="#fff"/>
<rect x="93" y="253.4" width="1.6" height="1.0" fill="#fff"/>
<rect x="103.6" y="253.6" width="6" height="0.9" fill="#fff"/>
<rect x="116.8" y="253.6" width="2.2" height="0.9" fill="#fff"/>
<rect x="86.3" y="256.1" width="1.4" height="1.2" fill="#fff"/>
<rect x="93.4" y="256.1" width="1.4" height="1.2" fill="#fff"/>
<rect x="109.1" y="256.1" width="1.4" height="1.2" fill="#fff"/>
<rect x="117.6" y="256.1" width="1.4" height="1.2" fill="#fff"/>
<rect x="77.9" y="262.8" width="1.2" height="1.3" fill="#fff"/>
<rect x="89.5" y="260.1" width="1.3" height="1.2" fill="#fff"/>
<rect x="96.2" y="260.6" width="1.3" height="1.2" fill="#fff"/>
<rect x="125.4" y="263.3" width="1.4" height="1.4" fill="#fff"/>
<rect x="101.2" y="265.9" width="1.3" height="1.2" fill="#fff"/>
<rect x="108.4" y="265.1" width="1.3" height="1.2" fill="#fff"/>
<rect x="105.2" y="269.1" width="1.3" height="1.2" fill="#fff"/>
<rect x="127.6" y="267.2" width="5" height="0.6" fill="#fff"/>
<rect x="93.1" y="272.2" width="1.4" height="1.2" fill="#fff"/>
<rect x="98.9" y="273.1" width="1.3" height="1.2" fill="#fff"/>
<rect x="109.2" y="272.2" width="1.3" height="1.2" fill="#fff"/>
<rect x="117.3" y="270.9" width="1.3" height="1.2" fill="#fff"/>
<rect x="125.4" y="270.9" width="1.3" height="1.2" fill="#fff"/>
<rect x="101.2" y="273.1" width="1.2" height="1.2" fill="#fff"/>
<rect x="96.2" y="275.4" width="1.3" height="1.2" fill="#fff"/>
<rect x="80.6" y="272.6" width="2.2" height="0.8" fill="#fff"/>
<rect x="81.0" y="277.7" width="2.2" height="0.8" fill="#fff"/>
<rect x="89.8" y="277.9" width="1.8" height="0.8" fill="#fff"/>
<rect x="121.5" y="272.3" width="1.0" height="2.0" fill="#fff"/>
<line x1="69" y1="255.1" x2="135.3" y2="255.1" stroke="#000" stroke-width="1.3" stroke-linecap="butt"/>
<circle cx="185.2" cy="240.8" r="2.65" fill="#000"/>
<circle cx="216.7" cy="243.7" r="2.65" fill="#000"/>
<circle cx="193.1" cy="245.8" r="2.65" fill="#000"/>
<circle cx="200.8" cy="248" r="2.65" fill="#000"/>
<circle cx="208.6" cy="247.3" r="2.65" fill="#000"/>
<circle cx="185.2" cy="251.6" r="2.65" fill="#000"/>
<circle cx="193.1" cy="256.6" r="2.65" fill="#000"/>
<circle cx="200.8" cy="257.4" r="2.65" fill="#000"/>
<circle cx="208.6" cy="256.4" r="2.65" fill="#000"/>
<circle cx="177.3" cy="261.7" r="2.65" fill="#000"/>
<circle cx="185.2" cy="261.7" r="2.65" fill="#000"/>
<circle cx="216.7" cy="263.1" r="2.65" fill="#000"/>
<circle cx="224.5" cy="261.7" r="2.65" fill="#000"/>
<circle cx="193.1" cy="264.6" r="2.65" fill="#000"/>
<circle cx="200.8" cy="265.3" r="2.65" fill="#000"/>
<circle cx="208.6" cy="264.6" r="2.65" fill="#000"/>
<circle cx="172.9" cy="267.5" r="2.65" fill="#000"/>
<circle cx="180.9" cy="267.5" r="2.65" fill="#000"/>
<circle cx="220.5" cy="267.5" r="2.65" fill="#000"/>
<circle cx="228.5" cy="267.5" r="2.65" fill="#000"/>
<circle cx="188.9" cy="268.5" r="2.65" fill="#000"/>
<circle cx="196.8" cy="269" r="2.65" fill="#000"/>
<circle cx="204.7" cy="269" r="2.65" fill="#000"/>
<circle cx="212.6" cy="268.5" r="2.65" fill="#000"/>
<circle cx="177.3" cy="272.1" r="2.65" fill="#000"/>
<circle cx="185.2" cy="272.3" r="2.65" fill="#000"/>
<circle cx="193" cy="273.3" r="2.65" fill="#000"/>
<circle cx="200.9" cy="273.6" r="2.65" fill="#000"/>
<circle cx="208.8" cy="273.3" r="2.65" fill="#000"/>
<circle cx="216.7" cy="272.5" r="2.65" fill="#000"/>
<circle cx="224.9" cy="272.1" r="2.65" fill="#000"/>
<circle cx="189" cy="276.6" r="2.65" fill="#000"/>
<circle cx="197" cy="277.5" r="2.65" fill="#000"/>
<circle cx="205" cy="277.5" r="2.65" fill="#000"/>
<circle cx="213" cy="276.6" r="2.65" fill="#000"/>
<circle cx="228.5" cy="276.4" r="2.65" fill="#000"/>
<circle cx="181" cy="276.5" r="2.65" fill="#000"/>
<circle cx="221" cy="276.5" r="2.65" fill="#000"/>
<circle cx="184.5" cy="270.6" r="2.65" fill="#000"/>
<circle cx="192.5" cy="271" r="2.65" fill="#000"/>
<circle cx="200.5" cy="271.2" r="2.65" fill="#000"/>
<circle cx="208.5" cy="271" r="2.65" fill="#000"/>
<circle cx="216.5" cy="270.6" r="2.65" fill="#000"/>
<circle cx="201" cy="275.3" r="2.65" fill="#000"/>
<circle cx="193" cy="275" r="2.65" fill="#000"/>
<circle cx="209" cy="275" r="2.65" fill="#000"/>
<circle cx="177.3" cy="279.3" r="2.65" fill="#000"/>
<circle cx="185.2" cy="280.1" r="2.65" fill="#000"/>
<circle cx="193.1" cy="279.8" r="2.65" fill="#000"/>
<circle cx="200.9" cy="280.8" r="2.65" fill="#000"/>
<circle cx="208.6" cy="279.8" r="2.65" fill="#000"/>
<circle cx="216.6" cy="279.3" r="2.65" fill="#000"/>
<circle cx="224.3" cy="279.3" r="2.65" fill="#000"/>
<circle cx="193.1" cy="282.9" r="2.65" fill="#000"/>
<circle cx="200.8" cy="283.8" r="2.65" fill="#000"/>
<circle cx="208.3" cy="283.2" r="2.65" fill="#000"/>
<circle cx="185.2" cy="286.6" r="2.65" fill="#000"/>
<circle cx="208.3" cy="288.2" r="2.65" fill="#000"/>
<circle cx="216.7" cy="285.8" r="2.65" fill="#000"/>
<circle cx="193.1" cy="290.9" r="2.65" fill="#000"/>
<circle cx="200.8" cy="292.3" r="2.65" fill="#000"/>
<circle cx="216.7" cy="295.9" r="2.65" fill="#000"/>
<circle cx="193.1" cy="297.4" r="2.65" fill="#000"/>
<circle cx="208.3" cy="299.8" r="2.65" fill="#000"/>
<circle cx="200.8" cy="301.7" r="2.65" fill="#000"/>
<line x1="167.9" y1="269.2" x2="233.6" y2="269.2" stroke="#000" stroke-width="1.3" stroke-linecap="butt"/>
</svg></body></html>
